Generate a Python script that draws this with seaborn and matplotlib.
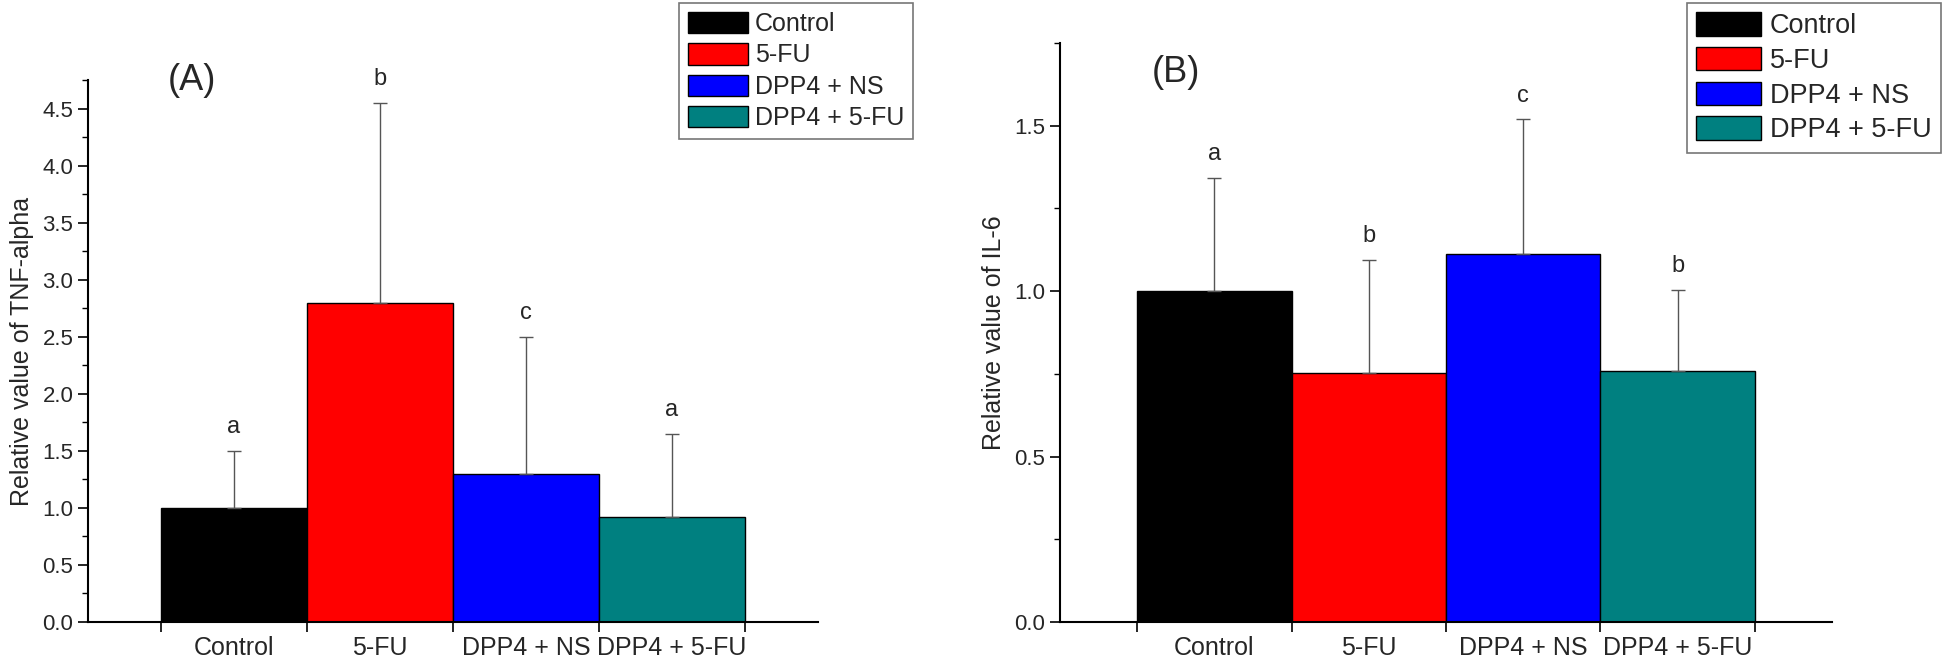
import numpy as np
import pandas as pd
import matplotlib
matplotlib.use("Agg")
import matplotlib.pyplot as plt
import seaborn as sns
from matplotlib.patches import Patch
from matplotlib.ticker import MultipleLocator

# ── data ──
groups = ["Control", "5-FU", "DPP4 + NS", "DPP4 + 5-FU"]
colors = ["#000000", "#FF0000", "#0000FF", "#008080"]

tnf_mean = [1.00, 2.80, 1.30, 0.92]
tnf_err = [0.50, 1.75, 1.20, 0.73]
tnf_letters = ["a", "b", "c", "a"]

il6_mean = [1.00, 0.753, 1.113, 0.758]
il6_err = [0.342, 0.342, 0.406, 0.246]
il6_letters = ["a", "b", "c", "b"]

sns.set_theme(style="ticks")
plt.rcParams["font.family"] = ["Liberation Sans", "DejaVu Sans"]

W, H = 1945, 667
fig = plt.figure(figsize=(W / 100, H / 100), dpi=100)


def px_axes(x0, x1, y_top, y_bot):
    return fig.add_axes([x0 / W, 1 - y_bot / H, (x1 - x0) / W, (y_bot - y_top) / H])


def draw_panel(ax, means, errs, letters, ylim, ylabel, tag, tag_xy, legend_xy, leg_fs):
    df = pd.DataFrame({"group": groups, "value": means})
    sns.barplot(data=df, x="group", y="value", hue="group", palette=colors,
                saturation=1, width=1.0, dodge=False, edgecolor="black",
                linewidth=1.0, legend=False, ax=ax, errorbar=None)
    x = np.arange(len(groups))
    # upper error bars only
    ax.errorbar(x, means, yerr=[np.zeros(len(errs)), errs], fmt="none",
                ecolor="#555555", elinewidth=1.0, capsize=5, capthick=1.0, zorder=1)
    for xi, m, e, lt in zip(x, means, errs, letters):
        ax.annotate(lt, (xi, m + e), xytext=(0, 17), textcoords="offset points",
                    ha="center", va="center", fontsize=17)

    ax.set_xlim(-1, 4)
    ax.set_ylim(0, ylim)
    # tick marks at bar edges, labels at bar centres
    ax.set_xticks(np.arange(-0.5, len(groups), 1.0))
    ax.set_xticklabels([])
    ax.set_xticks(x, minor=True)
    ax.set_xticklabels(groups, minor=True, fontsize=18)
    ax.tick_params(axis="x", which="major", direction="out", length=7, width=1.2, color="black")
    ax.tick_params(axis="x", which="minor", length=0, pad=10)
    ax.yaxis.set_major_locator(MultipleLocator(0.5))
    ax.yaxis.set_minor_locator(MultipleLocator(0.25))
    ax.tick_params(axis="y", which="major", direction="out", length=7, width=1.2,
                   labelsize=16, color="black")
    ax.tick_params(axis="y", which="minor", direction="out", length=4, width=1.0, color="black")
    ax.set_xlabel("")
    ax.set_ylabel(ylabel, fontsize=18, labelpad=6)
    for s in ["top", "right"]:
        ax.spines[s].set_visible(False)
    for s in ["left", "bottom"]:
        ax.spines[s].set_color("black")
        ax.spines[s].set_linewidth(1.5)

    ax.text(tag_xy[0], tag_xy[1], tag, fontsize=26, ha="center", va="center",
            transform=ax.transData)

    handles = [Patch(facecolor=c, edgecolor="black", linewidth=1.0) for c in colors]
    leg = ax.legend(handles, groups, loc="upper left",
                    bbox_to_anchor=(legend_xy[0] / W, 1 - legend_xy[1] / H),
                    bbox_transform=fig.transFigure, borderaxespad=0,
                    fontsize=leg_fs, handlelength=2.4, handleheight=0.95,
                    handletextpad=0.3, labelspacing=0.28, borderpad=0.35,
                    fancybox=False, framealpha=1)
    leg.get_frame().set_edgecolor("#777777")
    leg.get_frame().set_linewidth(1.2)


ax_a = px_axes(88, 818, 80, 622)
draw_panel(ax_a, tnf_mean, tnf_err, tnf_letters, 4.75,
           "Relative value of TNF-alpha", "(A)", (-0.29, 4.75), (679, 3), 18)

ax_b = px_axes(1060, 1832, 43, 622)
draw_panel(ax_b, il6_mean, il6_err, il6_letters, 1.75,
           "Relative value of IL-6", "(B)", (-0.25, 1.66), (1687, 3), 19.5)

fig.savefig("out.png", dpi=100)
